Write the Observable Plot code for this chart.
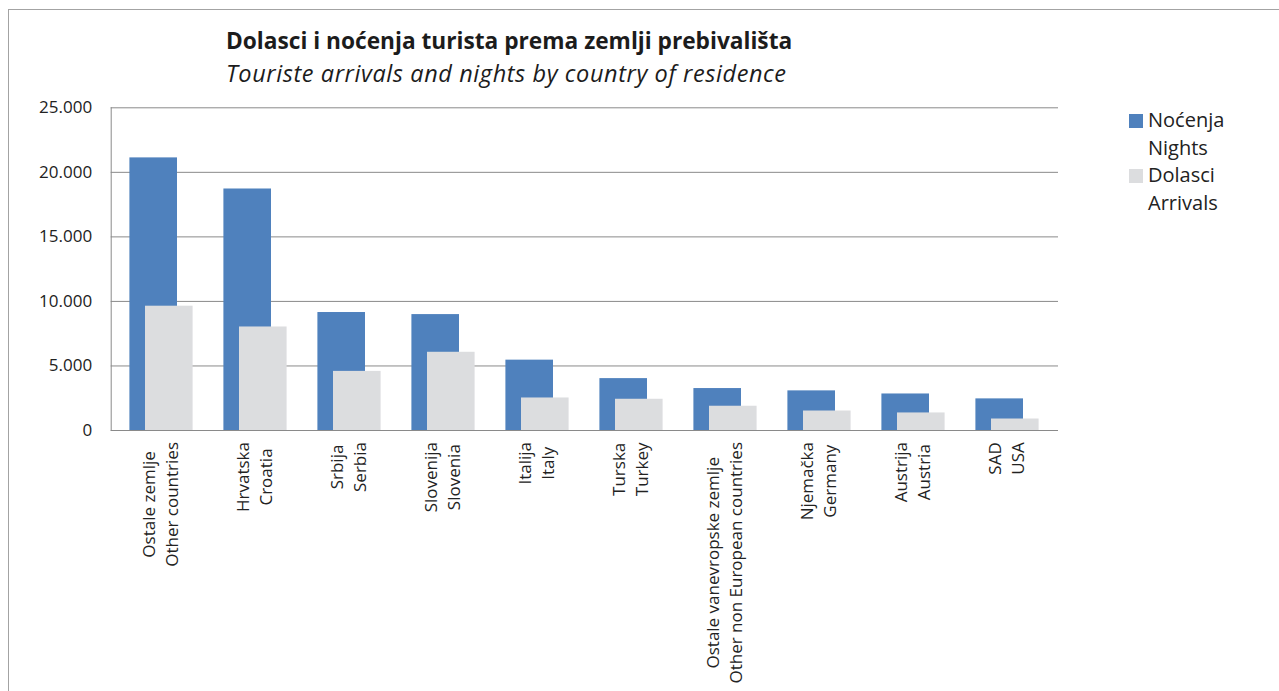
<!DOCTYPE html>
<html>
<head>
<meta charset="utf-8">
<script src="https://cdn.jsdelivr.net/npm/d3@7"></script>
<script src="https://cdn.jsdelivr.net/npm/@observablehq/plot@0.6"></script>
<style>
  html, body { margin: 0; padding: 0; background: #fff; }
  #wrap { position: relative; width: 1279px; height: 691px; overflow: hidden; font-family: "Open Sans", sans-serif; color: #222; }
  #border { position: absolute; left: 8px; top: 9px; width: 1400px; height: 800px; border: 1.5px solid #a3a3a3; box-sizing: border-box; }
  #chart { position: absolute; left: 0; top: 0; }
  .title { position: absolute; left: 226px; white-space: nowrap; color: #1c1c1c; }
  #t1 { top: 25px; font-weight: 700; font-size: 22.7px; }
  #t2 { top: 57px; font-style: italic; font-size: 23.5px; letter-spacing: 0.6px; }
  .leg { position: absolute; font-size: 20px; line-height: 28px; white-space: nowrap; color: #222; }
  .sw { position: absolute; width: 13.5px; height: 13.5px; }
</style>
</head>
<body>
<div id="wrap">
  <div id="border"></div>
  <div id="chart"></div>
  <div class="title" id="t1"></div>
  <div class="title" id="t2"></div>
  <div id="legend"></div>
</div>
<script>
const titleText = "Dolasci i noćenja turista prema zemlji prebivališta";
const subtitleText = "Touriste arrivals and nights by country of residence";

const categoriesHr = ["Ostale zemlje", "Hrvatska", "Srbija", "Slovenija", "Italija", "Turska", "Ostale vanevropske zemlje", "Njemačka", "Austrija", "SAD"];
const categoriesEn = ["Other countries", "Croatia", "Serbia", "Slovenia", "Italy", "Turkey", "Other non European countries", "Germany", "Austria", "USA"];
const nights   = [21120, 18710, 9140, 8980, 5450, 4020, 3250, 3070, 2830, 2450];
const arrivals = [9630, 8020, 4580, 6060, 2520, 2420, 1880, 1510, 1360, 890];
const yTicks = [0, 5000, 10000, 15000, 20000, 25000];

const seriesNames = [["Noćenja", "Nights"], ["Dolasci", "Arrivals"]];
const seriesColors = ["#4f81bd", "#dcdddf"];

document.getElementById("t1").textContent = titleText;
document.getElementById("t2").textContent = subtitleText;

const rows = categoriesHr.map((hr, i) => ({hr, en: categoriesEn[i], nights: nights[i], arrivals: arrivals[i]}));

const fmt = d3.formatLocale({decimal: ",", thousands: ".", grouping: [3], currency: ["", ""]}).format(",d");

const chart = Plot.plot({
  width: 1279,
  height: 691,
  marginLeft: 110.7,
  marginRight: 221,
  marginTop: 107.3,
  marginBottom: 261,
  x: {type: "band", domain: categoriesHr, padding: 0, axis: null},
  y: {domain: [0, 25000], axis: null},
  style: {fontFamily: "Open Sans, sans-serif", fontSize: "17px", color: "#222", background: "transparent", overflow: "visible"},
  marks: [
    Plot.gridY(yTicks, {stroke: "#8a8a8a", strokeOpacity: 1, strokeWidth: 1}),
    Plot.frame({anchor: "left", stroke: "#8a8a8a", strokeWidth: 1}),
    Plot.barY(rows, {x: "hr", y: "nights", fill: seriesColors[0], insetLeft: 15.4, insetRight: 31}),
    Plot.barY(rows, {x: "hr", y: "arrivals", fill: seriesColors[1], insetLeft: 31, insetRight: 15.4}),
    Plot.axisY(yTicks, {tickSize: 0, tickPadding: 19, tickFormat: fmt, fontSize: 17, fill: "#222"}),
    Plot.text(rows, {
      x: "hr",
      text: d => d.hr + "\n" + d.en,
      frameAnchor: "bottom",
      rotate: -90,
      textAnchor: "middle",
      lineHeight: 1.41,
      fontSize: 17,
      fill: "#222"
    })
  ]
});
document.getElementById("chart").appendChild(chart);

// place the top of each rotated label block just below the axis, centred on its band
const xs = chart.scale("x");
const ys = chart.scale("y");
const baseY = ys.apply(0);
const svgBox = chart.getBoundingClientRect();
chart.querySelectorAll('g[aria-label="text"] text').forEach((t, i) => {
  const r = t.getBoundingClientRect();
  const top = r.top - svgBox.top;
  const cx = (r.left + r.right) / 2 - svgBox.left;
  const want = xs.apply(rows[i].hr) + xs.bandwidth / 2 - 1;
  const tr = t.getAttribute("transform") || "";
  t.setAttribute("transform", `translate(${want - cx},${baseY + 12 - top}) ` + tr);
});

// legend
const legend = document.getElementById("legend");
const legTops = [114, 169];
seriesNames.forEach((names, i) => {
  const sw = document.createElement("div");
  sw.className = "sw";
  sw.style.left = "1129px";
  sw.style.top = legTops[i] + "px";
  sw.style.background = seriesColors[i];
  legend.appendChild(sw);
  const tx = document.createElement("div");
  tx.className = "leg";
  tx.style.left = "1148px";
  tx.style.top = (legTops[i] - 8) + "px";
  tx.innerHTML = names[0] + "<br>" + names[1];
  legend.appendChild(tx);
});
</script>
</body>
</html>
